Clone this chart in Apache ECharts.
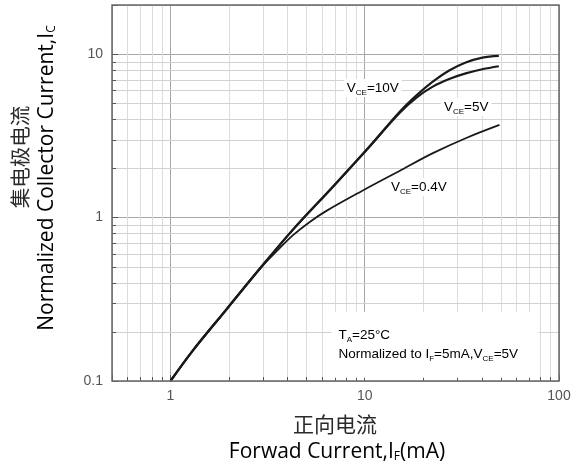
<!DOCTYPE html>
<html><head><meta charset="utf-8">
<script src="https://cdn.jsdelivr.net/npm/echarts@6/dist/echarts.min.js"></script>
<style>html,body{margin:0;padding:0;background:#fff}#c{width:581px;height:467px}</style>
</head><body><div id="c"></div>
<script>
// ---- data ----
const if10 = [1, 1.30, 1.95, 2.88, 4.26, 6.84, 10.2, 15.1, 18.4, 22.4, 27.2, 33.1, 40.3, 49];
const ic10 = [0.1, 0.153, 0.276, 0.486, 0.841, 1.54, 2.59, 4.43, 5.58, 6.79, 7.94, 8.89, 9.53, 9.77];
const if5  = [1, 1.30, 1.95, 2.88, 4.26, 6.84, 10.2, 15.1, 18.4, 22.4, 27.2, 33.1, 40.3, 49];
const ic5  = [0.1, 0.153, 0.276, 0.486, 0.841, 1.54, 2.59, 4.37, 5.41, 6.33, 7.05, 7.63, 8.09, 8.44];
const if04 = [1, 1.30, 1.95, 2.88, 3.53, 4.26, 5.21, 6.35, 9.48, 15.1, 22.3, 33.3, 49.4];
const ic04 = [0.1, 0.153, 0.276, 0.486, 0.625, 0.778, 0.941, 1.099, 1.436, 1.93, 2.47, 3.07, 3.69];
const xTickLabels = ['1', '10', '100'];
const yTickLabels = ['0.1', '1', '10'];
const xMinor = [0.6, 0.7, 0.8, 0.9, 2, 3, 4, 5, 6, 7, 8, 9, 20, 30, 40, 50, 60, 70, 80, 90];
const yMinor = [0.2, 0.3, 0.4, 0.5, 0.6, 0.7, 0.8, 0.9, 2, 3, 4, 5, 6, 7, 8, 9];

// ---- annotation anchors (data coords) ----
const curveLabels = [
  { at: [11, 6.2], main: '=10V' },
  { at: [33.3, 4.75], main: '=5V' },
  { at: [19, 1.54], main: '=0.4V' }
];
const noteAnchor = [6.74, 0.265];

const zip = (a, b) => a.map((v, i) => [v, b[i]]);
const isDecade = v => { const l = Math.log10(v); return Math.abs(l - Math.round(l)) < 1e-6; };
const decLabel = (v, labels, base) => {
  if (!isDecade(v)) return '';
  const idx = Math.round(Math.log10(v)) - base;
  return labels[idx] || '';
};

const chart = echarts.init(document.getElementById('c'), null, { renderer: 'canvas' });

function minorSeries(values, dim) {
  return {
    type: 'custom', silent: true, z: 1, clip: false,
    data: values.map(v => dim === 'x' ? [v, 1] : [1, v]),
    renderItem: (params, api) => {
      const cs = params.coordSys;
      if (dim === 'x') {
        const p = api.coord([api.value(0), 1]);
        const x = Math.round(p[0]) + 0.5;
        return { type: 'group', children: [
          { type: 'line', shape: { x1: x, y1: cs.y, x2: x, y2: cs.y + cs.height }, style: { stroke: '#dcdcdc', lineWidth: 1 } },
          { type: 'line', shape: { x1: x, y1: cs.y + cs.height, x2: x, y2: cs.y + cs.height - 4 }, style: { stroke: '#555', lineWidth: 1 } }
        ] };
      } else {
        const p = api.coord([1, api.value(1)]);
        const y = Math.round(p[1]) + 0.5;
        return { type: 'group', children: [
          { type: 'line', shape: { x1: cs.x, y1: y, x2: cs.x + cs.width, y2: y }, style: { stroke: '#d2d2d2', lineWidth: 1 } },
          { type: 'line', shape: { x1: cs.x, y1: y, x2: cs.x + 4, y2: y }, style: { stroke: '#555', lineWidth: 1 } }
        ] };
      }
    }
  };
}

const lineSeries = (d, w) => ({
  type: 'line', data: d, smooth: 0.35, showSymbol: false, symbol: 'none', z: 5,
  lineStyle: { color: '#1a1a1a', width: w }, silent: true
});

chart.setOption({
  animation: false,
  grid: { left: 112, right: 22, top: 5, bottom: 86, show: true, borderColor: '#6a6a6a', borderWidth: 1.5, z: 10 },
  xAxis: {
    type: 'log', logBase: 10, min: 0.5, max: 100,
    axisLine: { show: false },
    axisTick: { show: true, inside: true, length: 6, lineStyle: { color: '#555' } },
    splitLine: { show: true, lineStyle: { color: '#a8a8a8', width: 1 } },
    axisLabel: { color: '#555', fontFamily: 'Liberation Sans, Arial', fontSize: 14, margin: 8,
      formatter: v => decLabel(v, xTickLabels, 0), showMinLabel: true, showMaxLabel: true, hideOverlap: false }
  },
  yAxis: {
    type: 'log', logBase: 10, min: 0.1, max: 20,
    axisLine: { show: false },
    axisTick: { show: true, inside: true, length: 6, lineStyle: { color: '#555' } },
    splitLine: { show: true, lineStyle: { color: '#a8a8a8', width: 1 } },
    axisLabel: { color: '#555', fontFamily: 'Liberation Sans, Arial', fontSize: 14, margin: 9,
      formatter: v => decLabel(v, yTickLabels, -1) }
  },
  series: [
    minorSeries(xMinor, 'x'),
    minorSeries(yMinor, 'y'),
    lineSeries(zip(if10, ic10), 2.2),
    lineSeries(zip(if5, ic5), 2.2),
    lineSeries(zip(if04, ic04), 1.8)
  ]
});

// annotations anchored through the chart's own coordinate system
const px = d => chart.convertToPixel({ gridIndex: 0 }, d);
const subRich = {
  n: { fontSize: 13.5, fontFamily: 'Liberation Sans, Arial', color: '#2a2a2a', lineHeight: 16 },
  s: { fontSize: 8, fontFamily: 'Liberation Sans, Arial', color: '#2a2a2a', lineHeight: 8, padding: [9, 0, 0, 0] }
};
const graphics = [];
curveLabels.forEach(l => {
  const p = px(l.at);
  graphics.push({
    type: 'text', x: p[0], y: p[1], z: 50,
    style: { text: '{n|V}{s|CE}{n|' + l.main + '}', rich: subRich, align: 'center', verticalAlign: 'middle',
      backgroundColor: '#fff', padding: [1, 3, 1, 3] }
  });
});
const na = px(noteAnchor);
graphics.push({
  type: 'rect', x: na[0], y: na[1], z: 40, shape: { width: 207, height: 66 }, style: { fill: '#fff' }
});
graphics.push({
  type: 'text', x: na[0] + 7, y: na[1] + 23, z: 50,
  style: { text: '{n|T}{s|A}{n|=25°C}', rich: subRich, verticalAlign: 'middle' }
});
graphics.push({
  type: 'text', x: na[0] + 7, y: na[1] + 42, z: 50,
  style: { text: '{n|Normalized to I}{s|F}{n|=5mA,V}{s|CE}{n|=5V}', rich: subRich, verticalAlign: 'middle' }
});
// axis titles
const titleRich = {
  e: { fontSize: 21, fontFamily: 'Open Sans', color: '#1a1a1a' },
  es: { fontSize: 12, fontFamily: 'Open Sans', color: '#1a1a1a', padding: [9, 0, 0, 0] }
};
graphics.push({ type: 'text', x: 335, y: 424, z: 50,
  style: { text: '正向电流', font: '21px "Noto Sans CJK SC"', fill: '#2a2a2a', align: 'center', verticalAlign: 'middle' } });
graphics.push({ type: 'text', x: 337, y: 452, z: 50,
  style: { text: '{e|Forwad Current,I}{es|F}{e|(mA)}', rich: titleRich, align: 'center', verticalAlign: 'middle' } });
graphics.push({ type: 'text', x: 20, y: 157, rotation: Math.PI / 2, z: 50,
  style: { text: '集电极电流', font: '20.5px "Noto Sans CJK SC"', fill: '#2a2a2a', align: 'center', verticalAlign: 'middle' } });
graphics.push({ type: 'text', x: 47, y: 178, rotation: Math.PI / 2, z: 50,
  style: { text: '{e|Normalized Collector Current,I}{es|C}', rich: titleRich, align: 'center', verticalAlign: 'middle' } });

chart.setOption({ graphic: graphics });
</script></body></html>
